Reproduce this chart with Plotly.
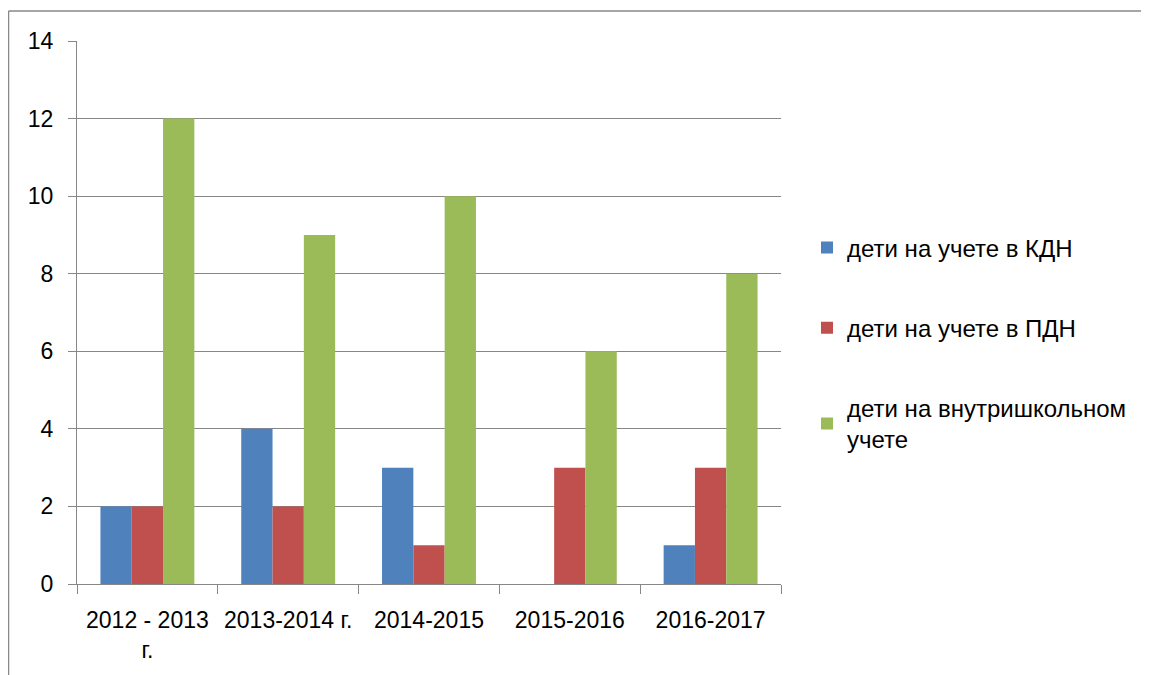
import plotly.graph_objects as go

categories = ["2012 - 2013<br>г.", "2013-2014 г.", "2014-2015", "2015-2016", "2016-2017"]
kdn = [2, 4, 3, 0, 1]
pdn = [2, 2, 1, 3, 3]
school = [12, 9, 10, 6, 8]
series_names = ["дети на учете в КДН", "дети на учете в ПДН", "дети на внутришкольном<br>учете"]
colors = ["#4F81BD", "#C0504D", "#9BBB59"]

# page has an 8px body margin; work in figure coordinates
OFF = 8
W, H = 1149 - OFF, 675 - OFF
L, R, T, B = 77 - OFF, 781 - OFF, 40.5 - OFF, 584 - OFF

fig = go.Figure()
for i, (name, vals) in enumerate(zip(series_names, [kdn, pdn, school])):
    fig.add_trace(go.Bar(x=categories, y=vals, name=name, marker_color=colors[i],
                         marker_line_width=0, legendgroup=f"g{i}"))

def px(x):
    return (x - OFF - L) / (R - L)

def py(y):
    return (B - (y - OFF)) / (B - T)

grid = "#878787"
font = "Liberation Sans, Arial, sans-serif"
fig.update_layout(
    width=W, height=H,
    margin=dict(l=L, r=W - R, t=T, b=H - B),
    paper_bgcolor="white", plot_bgcolor="white",
    barmode="group", bargap=0.333, bargroupgap=0,
    font=dict(family=font, size=23, color="black"),
    showlegend=True,
    legend=dict(x=px(807), y=py(225), xanchor="left", yanchor="top",
                tracegroupgap=46, font=dict(size=24), itemwidth=30,
                bgcolor="rgba(0,0,0,0)"),
    xaxis=dict(showgrid=False, showline=True, linecolor=grid, linewidth=1,
               ticks="outside", tickson="boundaries", ticklen=9, tickcolor=grid,
               ticklabelstandoff=15, tickfont=dict(size=23)),
    yaxis=dict(range=[0, 14], dtick=2, showgrid=True, gridcolor=grid, gridwidth=1,
               showline=True, linecolor=grid, linewidth=1, zeroline=False,
               ticks="outside", ticklen=8, tickcolor=grid, ticklabelstandoff=10,
               tickfont=dict(size=23)),
    shapes=[
        dict(type="line", xref="paper", yref="paper", x0=px(8.5), x1=px(1149), y0=py(10.5), y1=py(10.5),
             line=dict(color="#888888", width=1.5)),
        dict(type="line", xref="paper", yref="paper", x0=px(8.5), x1=px(8.5), y0=py(10.5), y1=py(675),
             line=dict(color="#888888", width=1.5)),
    ],
)
fig.write_html("out.html")
